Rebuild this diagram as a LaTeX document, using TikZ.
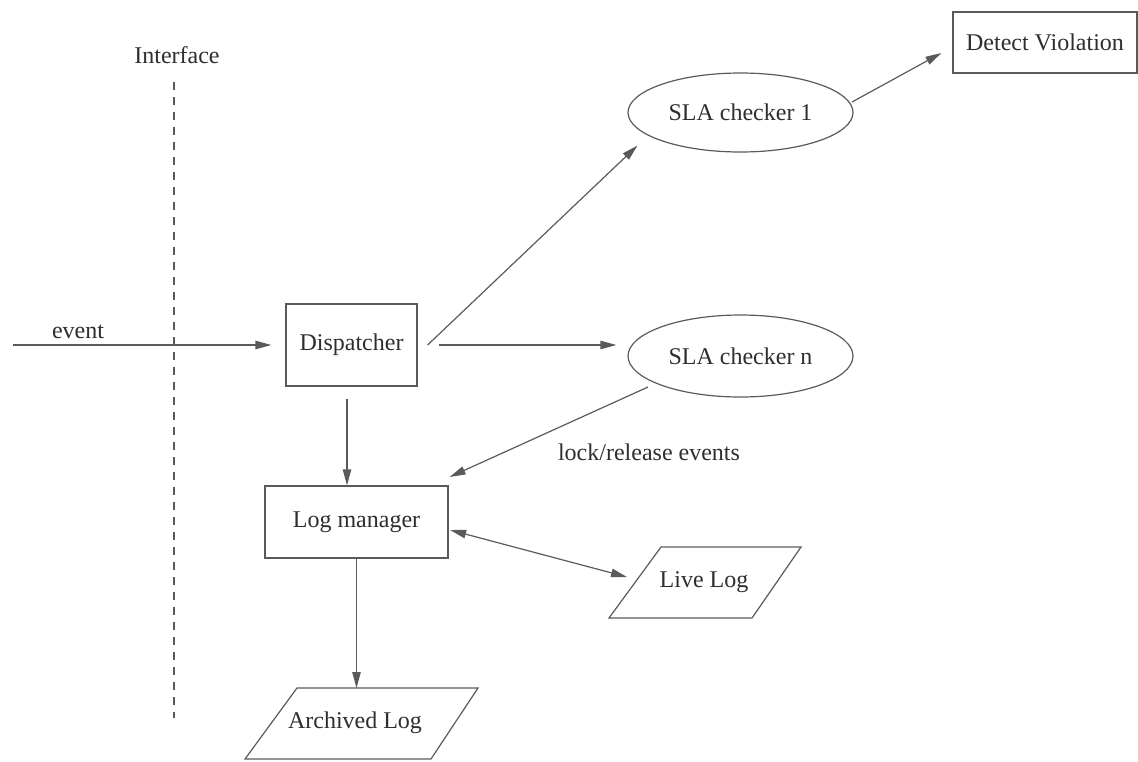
\documentclass[tikz,border=0pt]{standalone}
\usepackage{fontspec}
\newfontfamily\figfont{LiberationSerif}[Extension=.ttf, UprightFont=*-Regular, BoldFont=*-Bold]
\usetikzlibrary{arrows.meta,calc,shapes.geometric}
\definecolor{linegray}{HTML}{5A5A5A}
\definecolor{inkgray}{HTML}{2E2E2E}
\tikzset{
  txt/.style={font=\figfont\fontsize{12pt}{14pt}\selectfont, text=inkgray, inner sep=0pt},
  boxnode/.style={txt, draw=linegray, line width=0.6pt, rectangle},
  ellnode/.style={txt, draw=linegray, line width=0.6pt, ellipse},
  outline/.style={draw=linegray, line width=0.6pt, line join=miter},
  arr/.style={draw=linegray, line width=0.6pt, -{Triangle[length=8pt,width=4.2pt]}},
  dblarr/.style={draw=linegray, line width=0.6pt, {Triangle[length=8pt,width=4.2pt]}-{Triangle[length=8pt,width=4.2pt]}},
  divider/.style={draw=linegray, line width=0.6pt, dash pattern=on 4pt off 3.5pt}
}
\begin{document}
\begin{tikzpicture}[x=0.5pt, y=-0.5pt]
  \useasboundingbox (0,0) rectangle (1138,761);

  % interface boundary
  \node[txt] (iface) at (177,55) {Interface};
  \coordinate (ifacetop) at (174,82);
  \coordinate (ifacebot) at (174,718);
  \draw[divider] (ifacetop) -- (ifacebot);

  % processing nodes
  \node[boxnode, minimum width=65.5pt, minimum height=41pt] (disp) at (351.5,345) {Dispatcher};
  \node[ellnode, minimum width=112.5pt, minimum height=39.5pt] (sla1) at (740.5,112.5) {SLA checker 1};
  \node[ellnode, minimum width=112.5pt, minimum height=41pt] (slan) at (740.5,356) {SLA checker n};
  \node[boxnode, minimum width=92pt, minimum height=30.5pt] (detect) at (1045,42.5) {Detect Violation};
  \node[boxnode, minimum width=91.5pt, minimum height=36pt] (lm) at (356.5,522) {Log manager};

  % log stores
  \node[txt] (live) at (704,582) {Live Log};
  \draw[outline] (661,547) -- (801,547) -- (752,618) -- (609,618) -- cycle;
  \node[txt] (arch) at (355,723) {Archived Log};
  \draw[outline] (297,688) -- (478,688) -- (431,759) -- (245,759) -- cycle;
  \coordinate (archtop) at (356.5,688);

  % incoming event
  \coordinate (src) at (13,345);
  \draw[arr] (src) -- ([xshift=-7pt]disp.west);
  \node[txt] (evlbl) at (78,332) {event};

  % dispatching
  \draw[arr] ([xshift=5pt]disp.east) -- ($(sla1)+(-103,33)$);
  \draw[arr] ([xshift=10.5pt]disp.east) -- ($(slan.west)+(-11,-11)$);
  \draw[arr] ($(sla1)+(111.5,-10.5)$) -- ($(detect.west)+(-11,10.5)$);
  \draw[arr] ($(disp.south)+(-4.5,12)$) -- ($(lm.north)+(-9.5,0)$);

  % lock / release events back to the log manager
  \draw[arr] ($(slan)+(-92.5,31)$) -- ($(lm.east)+(1,-45)$);
  \node[txt] (lrlbl) at (649,452) {lock/release events};

  % log storage
  \draw[dblarr] ($(lm.east)+(1.5,8)$) -- ($(live)+(-77,-5)$);
  \draw[arr] (lm.south) -- (archtop);
\end{tikzpicture}
\end{document}
